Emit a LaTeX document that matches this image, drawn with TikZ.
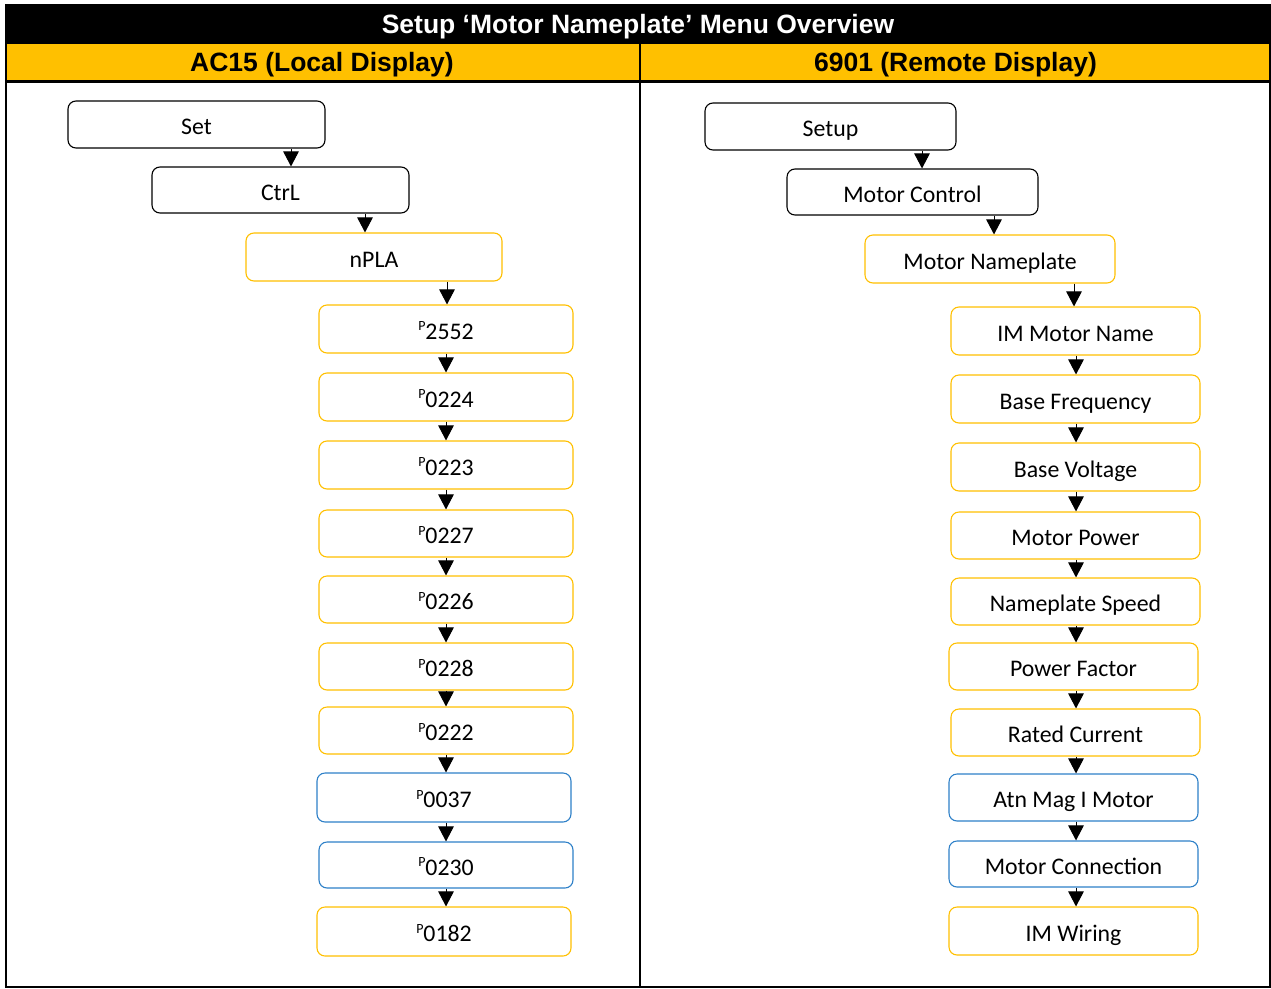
\documentclass[tikz,border=0pt]{standalone}
\usepackage{fontspec}
\setmainfont{Carlito}
\newfontfamily\hdfont{Liberation Sans}
\usetikzlibrary{arrows.meta}
\definecolor{hdyellow}{HTML}{FFC000}
\definecolor{bxblue}{HTML}{2E80C8}
\newcommand{\pp}[1]{\raisebox{8.5pt}{\fontsize{14}{14}\selectfont P}#1}
\tikzset{
  box/.style={draw, rounded corners=8pt, line width=1.1pt, minimum width=256pt, minimum height=47pt, inner sep=0pt, fill=white, text height=20pt, text depth=0pt, font=\fontsize{23.8}{28}\selectfont},
  kbox/.style={box, draw=black},
  ybox/.style={box, draw=hdyellow},
  bbox/.style={box, draw=bxblue},
  arr/.style={-{Triangle[width=15.5pt,length=15pt]}, line width=1pt},
  hd/.style={font=\hdfont\bfseries\fontsize{26.5}{30}\selectfont, inner sep=0pt, text height=19pt, text depth=0pt}
}
\begin{document}
\begin{tikzpicture}[x=1pt,y=-1pt]
\useasboundingbox (0,0) rectangle (1271,988);
% table frame
\fill[black] (5,5) rectangle (1271,44);
\fill[hdyellow] (5,44) rectangle (1271,81);
\draw[line width=2pt] (6,5) rectangle (1270,987);
\draw[line width=2.5pt] (5,81.5) -- (1271,81.5);
\draw[line width=2pt] (640,44) -- (640,987);
\node[hd, text=white] (title) at (638,23.5) {Setup ‘Motor Nameplate’ Menu Overview};
\node[hd] (hleft) at (322,62) {AC15 (Local Display)};
\node[hd] (hright) at (955.5,62) {6901 (Remote Display)};
% left column
\node[kbox, minimum width=257pt] (set) at (196.5,124.5) {Set};
\node[kbox, minimum width=257pt, minimum height=46pt] (ctrl) at (280.5,190) {CtrL};
\node[ybox, minimum height=48pt] (npla) at (374,257) {nPLA};
\node[ybox, minimum width=254pt, minimum height=48pt] (p2552) at (446,329) {\pp{2552}};
\node[ybox, minimum width=254pt, minimum height=48pt] (p0224) at (446,397) {\pp{0224}};
\node[ybox, minimum width=254pt, minimum height=48pt] (p0223) at (446,465) {\pp{0223}};
\node[ybox, minimum width=254pt] (p0227) at (446,533.5) {\pp{0227}};
\node[ybox, minimum width=254pt] (p0226) at (446,599.5) {\pp{0226}};
\node[ybox, minimum width=254pt] (p0228) at (446,666.5) {\pp{0228}};
\node[ybox, minimum width=254pt] (p0222) at (446,730.5) {\pp{0222}};
\node[bbox, minimum width=254pt, minimum height=49pt] (p0037) at (444,797.5) {\pp{0037}};
\node[bbox, minimum width=254pt, minimum height=46pt] (p0230) at (446,865) {\pp{0230}};
\node[ybox, minimum width=254pt, minimum height=49pt] (p0182) at (444,931.5) {\pp{0182}};
\draw[arr] (set.south -| 291,0) -- (ctrl.north -| 291,0);
\draw[arr] (ctrl.south -| 365,0) -- (npla.north -| 365,0);
\draw[arr] (npla.south -| 447,0) -- (p2552.north -| 447,0);
\foreach \a/\b in {p2552/p0224,p0224/p0223,p0223/p0227,p0227/p0226,p0226/p0228,p0228/p0222,p0222/p0037,p0037/p0230,p0230/p0182}
  \draw[arr] (\a.south -| 446,0) -- (\b.north -| 446,0);
% right column
\node[kbox, minimum width=251pt] (setup) at (830.5,126.5) {Setup};
\node[kbox, minimum width=251pt, minimum height=46pt] (mctl) at (912.5,192) {Motor Control};
\node[ybox, minimum width=250pt, minimum height=48pt] (mnp) at (990,259) {Motor Nameplate};
\node[ybox, minimum width=249pt, minimum height=48pt] (imn) at (1075.5,331) {IM Motor Name};
\node[ybox, minimum width=249pt, minimum height=48pt] (bf) at (1075.5,399) {Base Frequency};
\node[ybox, minimum width=249pt, minimum height=48pt] (bv) at (1075.5,467) {Base Voltage};
\node[ybox, minimum width=249pt] (mp) at (1075.5,535.5) {Motor Power};
\node[ybox, minimum width=249pt] (ns) at (1075.5,601.5) {Nameplate Speed};
\node[ybox, minimum width=249pt] (pf) at (1073.5,666.5) {Power Factor};
\node[ybox, minimum width=249pt] (rc) at (1075.5,732.5) {Rated Current};
\node[bbox, minimum width=249pt] (atn) at (1073.5,797.5) {Atn Mag I Motor};
\node[bbox, minimum width=249pt, minimum height=46pt] (mcon) at (1073.5,864) {Motor Connection};
\node[ybox, minimum width=249pt, minimum height=48pt] (imw) at (1073.5,931) {IM Wiring};
\draw[arr] (setup.south -| 922,0) -- (mctl.north -| 922,0);
\draw[arr] (mctl.south -| 994,0) -- (mnp.north -| 994,0);
\draw[arr] (mnp.south -| 1074,0) -- (imn.north -| 1074,0);
\foreach \a/\b in {imn/bf,bf/bv,bv/mp,mp/ns,ns/pf,pf/rc,rc/atn,atn/mcon,mcon/imw}
  \draw[arr] (\a.south -| 1076,0) -- (\b.north -| 1076,0);
\end{tikzpicture}
\end{document}
